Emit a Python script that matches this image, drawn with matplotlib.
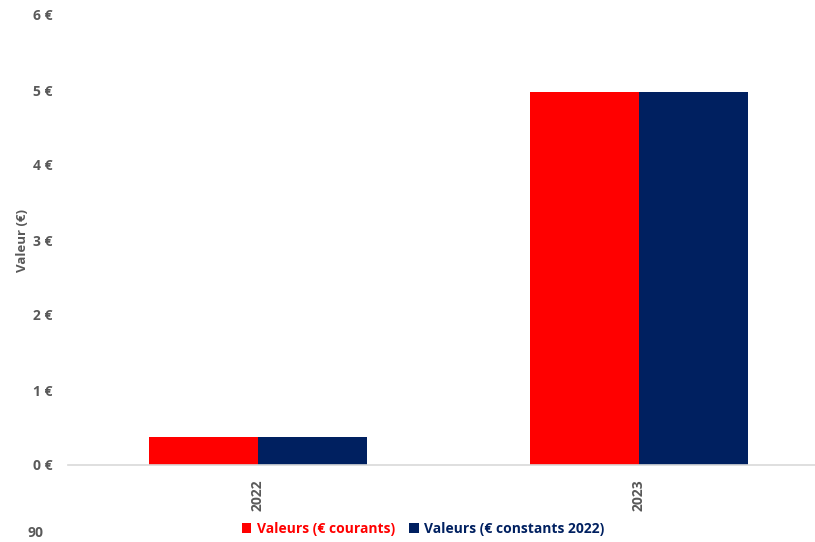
import matplotlib.pyplot as plt
import numpy as np

plt.rcParams['font.family'] = ['Open Sans', 'DejaVu Sans']

annees = ['2022', '2023']
valeurs_courants = [0.37, 4.97]
valeurs_constants = [0.37, 4.97]
legende = ['Valeurs (€ courants)', 'Valeurs (€ constants 2022)']

gris = '#595959'
rouge = '#FF0000'
marine = '#002060'

fig = plt.figure(figsize=(8.15, 5.42), dpi=100)
ax = fig.add_axes([68 / 815, 1 - 465 / 542, (815 - 68) / 815, 450 / 542])

x = np.arange(len(annees))
w = 0.285
ax.bar(x - w / 2, valeurs_courants, w, color=rouge, label=legende[0])
ax.bar(x + w / 2, valeurs_constants, w, color=marine, label=legende[1])

ax.set_xlim(-0.4987, 1.462)
ax.set_ylim(0, 6)
ax.set_yticks(range(0, 7))
ax.set_yticklabels([f'{v} €' for v in range(0, 7)], fontsize=10, fontweight='bold', color=gris)
ax.set_xticks(x)
ax.set_xticklabels(annees, rotation=90, fontsize=10, fontweight='bold', color=gris)
ax.tick_params(axis='both', length=0)
ax.tick_params(axis='y', pad=11)
ax.tick_params(axis='x', pad=10)

for s in ['top', 'right', 'left']:
    ax.spines[s].set_visible(False)
ax.spines['bottom'].set_color('#d9d9d9')
ax.spines['bottom'].set_linewidth(1.2)

fig.text(22 / 815, 1 - 240 / 542, 'Valeur (€)', rotation=90, ha='center', va='center',
         fontsize=9.5, fontweight='bold', color=gris)
fig.text(36 / 815, 1 - 533 / 542, '90', ha='center', va='center',
         fontsize=10, fontweight='bold', color=gris)

leg = fig.legend(loc='center', bbox_to_anchor=(423 / 815, 1 - 529 / 542), ncol=2, frameon=False,
                 handlelength=0.7, handleheight=0.7, handletextpad=0.4, columnspacing=1.0,
                 prop={'size': 10, 'weight': 'bold'})
for t, c in zip(leg.get_texts(), [rouge, marine]):
    t.set_color(c)

fig.savefig('out.png', dpi=100)
